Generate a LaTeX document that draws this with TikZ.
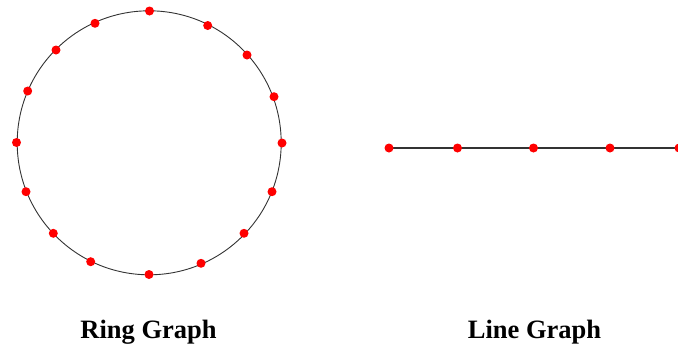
\documentclass[tikz,border=0pt]{standalone}
\usepackage{fontspec}
\setmainfont{Liberation Serif}
\usetikzlibrary{backgrounds}
\begin{document}
\begin{tikzpicture}[x=1pt,y=-1pt,
  vtx/.style={circle,fill=red,inner sep=0pt,minimum size=9pt},
  edge/.style={draw=black!80,line width=1.1pt},
  lbl/.style={font=\fontsize{26.5}{30}\selectfont\bfseries,inner sep=0pt}]
\useasboundingbox (0,0) rectangle (678,349);
\clip (0,0) rectangle (678,349);
\coordinate (c) at (149.2,142.8);
\draw[edge,line width=0.9pt] (c) circle (132);
\foreach \p [count=\i] in {(149.5,11),(207.7,25.5),(247,55),(274,96.7),(282,143),
  (272,191.7),(244,233.3),(201,263.3),(149,274.5),(90.7,261.7),(53.3,233.3),
  (26,191.7),(16.5,142.5),(27.7,91),(56,50),(95,23.3)}{
  \node[vtx] (r\i) at \p {};
}
\node[vtx] (l1) at (389,148) {};
\node[vtx] (l2) at (457.5,148) {};
\node[vtx] (l3) at (533.5,148) {};
\node[vtx] (l4) at (610,148) {};
\node[vtx] (l5) at (679,148) {};
\begin{scope}[on background layer]
\draw[edge] (l1.center) -- (l2.center) -- (l3.center) -- (l4.center) -- (l5.center);
\end{scope}
\node[lbl,anchor=base] (t1) at (148.5,338) {Ring Graph};
\node[lbl,anchor=base] (t2) at (534.5,338) {Line Graph};
\end{tikzpicture}
\end{document}
